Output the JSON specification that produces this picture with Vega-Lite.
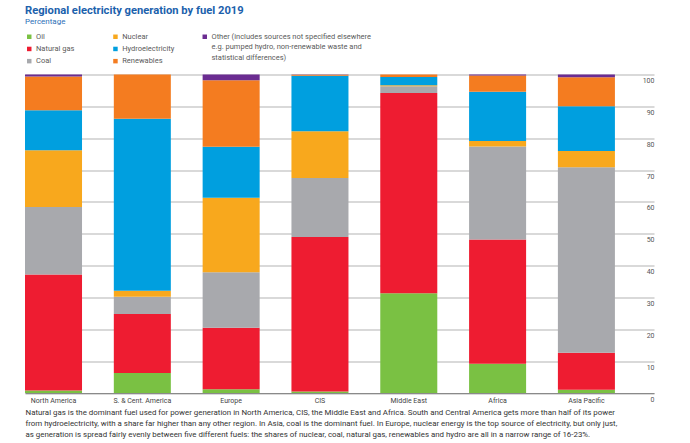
{
  "$schema": "https://vega.github.io/schema/vega-lite/v6.json",
  "width": 629,
  "height": 318.5,
  "autosize": {"type": "none"},
  "padding": {"left": 25, "top": 74.5, "right": 36, "bottom": 50},
  "background": "white",
  "config": {
    "view": {"stroke": null},
    "font": "Roboto",
    "legend": {"padding": 0},
    "style": {"guide-label": {"lineHeight": 10.7}}
  },
  "title": {
    "text": "Regional electricity generation by fuel 2019",
    "subtitle": "Percentage",
    "anchor": "start",
    "frame": "group",
    "font": "Roboto",
    "fontSize": 11.2,
    "fontWeight": "bold",
    "color": "#1B61AC",
    "subtitleFont": "Roboto",
    "subtitleFontSize": 8,
    "subtitleColor": "#2C6FB7",
    "subtitlePadding": 2,
    "offset": 7
  },
  "data": {
    "values": [
      {"region": "North America", "fuel": "Oil", "value": 0.8},
      {"region": "North America", "fuel": "Natural gas", "value": 36.4},
      {"region": "North America", "fuel": "Coal", "value": 21.2},
      {"region": "North America", "fuel": "Nuclear", "value": 17.8},
      {"region": "North America", "fuel": "Hydroelectricity", "value": 12.6},
      {"region": "North America", "fuel": "Renewables", "value": 10.6},
      {"region": "North America", "fuel": "Other", "value": 0.6},
      {"region": "S. & Cent. America", "fuel": "Oil", "value": 6.3},
      {"region": "S. & Cent. America", "fuel": "Natural gas", "value": 18.5},
      {"region": "S. & Cent. America", "fuel": "Coal", "value": 5.4},
      {"region": "S. & Cent. America", "fuel": "Nuclear", "value": 1.9},
      {"region": "S. & Cent. America", "fuel": "Hydroelectricity", "value": 54.0},
      {"region": "S. & Cent. America", "fuel": "Renewables", "value": 13.9},
      {"region": "S. & Cent. America", "fuel": "Other", "value": 0.0},
      {"region": "Europe", "fuel": "Oil", "value": 1.2},
      {"region": "Europe", "fuel": "Natural gas", "value": 19.3},
      {"region": "Europe", "fuel": "Coal", "value": 17.4},
      {"region": "Europe", "fuel": "Nuclear", "value": 23.4},
      {"region": "Europe", "fuel": "Hydroelectricity", "value": 16.0},
      {"region": "Europe", "fuel": "Renewables", "value": 20.9},
      {"region": "Europe", "fuel": "Other", "value": 1.8},
      {"region": "CIS", "fuel": "Oil", "value": 0.5},
      {"region": "CIS", "fuel": "Natural gas", "value": 48.5},
      {"region": "CIS", "fuel": "Coal", "value": 18.5},
      {"region": "CIS", "fuel": "Nuclear", "value": 14.7},
      {"region": "CIS", "fuel": "Hydroelectricity", "value": 17.4},
      {"region": "CIS", "fuel": "Renewables", "value": 0.3},
      {"region": "CIS", "fuel": "Other", "value": 0.1},
      {"region": "Middle East", "fuel": "Oil", "value": 31.3},
      {"region": "Middle East", "fuel": "Natural gas", "value": 62.9},
      {"region": "Middle East", "fuel": "Coal", "value": 2.1},
      {"region": "Middle East", "fuel": "Nuclear", "value": 0.3},
      {"region": "Middle East", "fuel": "Hydroelectricity", "value": 2.6},
      {"region": "Middle East", "fuel": "Renewables", "value": 0.8},
      {"region": "Middle East", "fuel": "Other", "value": 0.0},
      {"region": "Africa", "fuel": "Oil", "value": 9.2},
      {"region": "Africa", "fuel": "Natural gas", "value": 39.0},
      {"region": "Africa", "fuel": "Coal", "value": 29.2},
      {"region": "Africa", "fuel": "Nuclear", "value": 1.7},
      {"region": "Africa", "fuel": "Hydroelectricity", "value": 15.5},
      {"region": "Africa", "fuel": "Renewables", "value": 5.1},
      {"region": "Africa", "fuel": "Other", "value": 0.3},
      {"region": "Asia Pacific", "fuel": "Oil", "value": 1.0},
      {"region": "Asia Pacific", "fuel": "Natural gas", "value": 11.6},
      {"region": "Asia Pacific", "fuel": "Coal", "value": 58.3},
      {"region": "Asia Pacific", "fuel": "Nuclear", "value": 5.1},
      {"region": "Asia Pacific", "fuel": "Hydroelectricity", "value": 14.0},
      {"region": "Asia Pacific", "fuel": "Renewables", "value": 9.1},
      {"region": "Asia Pacific", "fuel": "Other", "value": 0.9}
    ]
  },
  "transform": [
    {"stack": "value", "groupby": ["region"], "as": ["y0", "y1"]}
  ],
  "encoding": {
    "x": {
      "field": "region",
      "type": "nominal",
      "sort": ["North America", "S. & Cent. America", "Europe", "CIS", "Middle East", "Africa", "Asia Pacific"],
      "scale": {"paddingInner": 0.358, "paddingOuter": 0.22, "align": 0},
      "axis": {
        "orient": "bottom",
        "labelAngle": 0,
        "labelFont": "Roboto",
        "labelFontSize": 7,
        "labelColor": "#444444",
        "labelPadding": 3,
        "ticks": false,
        "domain": true,
        "domainColor": "#8a8a8a",
        "domainWidth": 1.2,
        "grid": false,
        "title": [
          "Natural gas is the dominant fuel used for power generation in North America, CIS, the Middle East and Africa. South and Central America gets more than half of its power",
          "from hydroelectricity, with a share far higher than any other region. In Asia, coal is the dominant fuel. In Europe, nuclear energy is the top source of electricity, but only just,",
          "as generation is spread fairly evenly between five different fuels: the shares of nuclear, coal, natural gas, renewables and hydro are all in a narrow range of 16-23%."
        ],
        "titleFont": "Roboto",
        "titleFontSize": 7.9,
        "titleFontWeight": "normal",
        "titleColor": "#333333",
        "titleAnchor": "start",
        "titleAlign": "left",
        "titleBaseline": "top",
        "titleLineHeight": 10.8,
        "titleX": 0,
        "titleY": 15.5
      }
    },
    "y": {
      "field": "y0",
      "type": "quantitative",
      "scale": {"domain": [0, 100], "nice": false},
      "axis": {
        "orient": "right",
        "values": [0, 10, 20, 30, 40, 50, 60, 70, 80, 90, 100],
        "grid": true,
        "gridColor": "#b3b3b3",
        "gridWidth": 1,
        "domain": false,
        "ticks": false,
        "tickSize": 0,
        "labelAlign": "right",
        "labelBaseline": "top",
        "labelPadding": 0,
        "labelOffset": 2,
        "labelFont": "Roboto",
        "labelFontSize": 7,
        "labelColor": "#555555",
        "title": null
      }
    },
    "y2": {"field": "y1"}
  },
  "layer": [
    {
      "transform": [{"filter": {"field": "fuel", "oneOf": ["Oil", "Natural gas", "Coal"]}}],
      "mark": {"type": "bar"},
      "encoding": {
        "fill": {
          "field": "fuel",
          "type": "nominal",
          "scale": {"domain": ["Oil", "Natural gas", "Coal"], "range": ["#7AC143", "#EE1C31", "#A8A9AD"]},
          "legend": {
            "orient": "none",
            "legendX": 0.5,
            "legendY": -41.5,
            "title": null,
            "symbolType": "square",
            "symbolSize": 20,
            "symbolStrokeWidth": 0,
            "labelFont": "Roboto",
            "labelFontSize": 7.5,
            "labelColor": "#5a5a5a",
            "labelOffset": 3,
            "rowPadding": 3.2
          }
        }
      }
    },
    {
      "transform": [{"filter": {"field": "fuel", "oneOf": ["Nuclear", "Hydroelectricity", "Renewables"]}}],
      "mark": {"type": "bar"},
      "encoding": {
        "fill": {
          "field": "fuel",
          "type": "nominal",
          "scale": {"domain": ["Nuclear", "Hydroelectricity", "Renewables"], "range": ["#F8A81D", "#009FDF", "#F47C20"]},
          "legend": {
            "orient": "none",
            "legendX": 86.7,
            "legendY": -41.5,
            "title": null,
            "symbolType": "square",
            "symbolSize": 20,
            "symbolStrokeWidth": 0,
            "labelFont": "Roboto",
            "labelFontSize": 7.5,
            "labelColor": "#5a5a5a",
            "labelOffset": 3,
            "rowPadding": 3.2
          }
        }
      }
    },
    {
      "transform": [{"filter": {"field": "fuel", "oneOf": ["Other"]}}],
      "mark": {"type": "bar"},
      "encoding": {
        "fill": {
          "field": "fuel",
          "type": "nominal",
          "scale": {"domain": ["Other"], "range": ["#6B2C91"]},
          "legend": {
            "orient": "none",
            "legendX": 176,
            "legendY": -41.5,
            "title": null,
            "symbolType": "square",
            "symbolSize": 20,
            "symbolStrokeWidth": 0,
            "labelFont": "Roboto",
            "labelFontSize": 7.5,
            "labelColor": "#5a5a5a",
            "labelOffset": 3,
            "labelLimit": 400,
            "labelExpr": "['Other (includes sources not specified elsewhere', 'e.g. pumped hydro, non-renewable waste and', 'statistical differences)']"
          }
        }
      }
    }
  ],
  "resolve": {"scale": {"fill": "independent"}, "legend": {"fill": "independent"}}
}
